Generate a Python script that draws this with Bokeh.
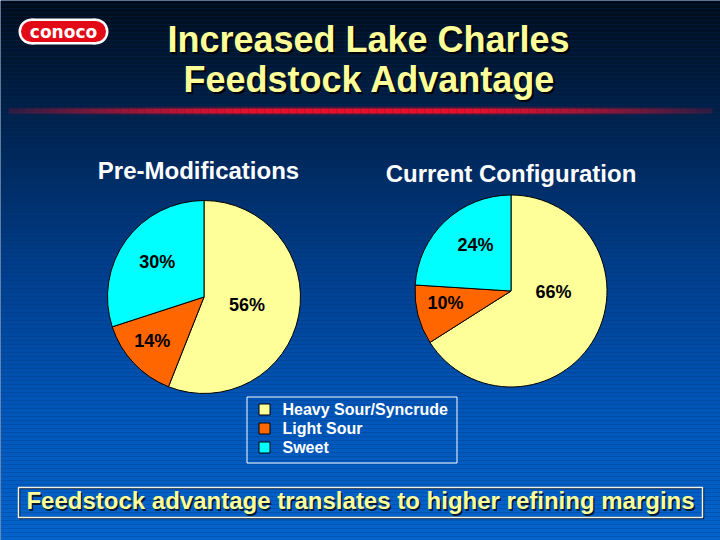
import numpy as np
from bokeh.plotting import figure
from bokeh.models import Range1d
from bokeh.embed import file_html
from bokeh.resources import INLINE
from bokeh.core.properties import value

# ---------------- data ----------------
title_lines = ["Increased Lake Charles", "Feedstock Advantage"]
categories = ["Heavy Sour/Syncrude", "Light Sour", "Sweet"]
pre_mod = [56, 14, 30]
current = [66, 10, 24]
pie_titles = ["Pre-Modifications", "Current Configuration"]
footer_text = "Feedstock advantage translates to higher refining margins"
logo_text = "conoco"

# ---------------- style / layout ----------------
W, H = 720, 540
FONT = value("Liberation Sans")
SLICE_COLORS = ["#ffff99", "#ff6600", "#00ffff"]
YELLOW = "#ffff99"
BASE_FIX = 10  # correction for rendered alphabetic baseline

def Y(y):
    return H - y

p = figure(width=W, height=H, x_range=Range1d(0, W), y_range=Range1d(0, H),
           output_backend="svg", toolbar_location=None, min_border=0,
           x_axis_location=None, y_axis_location=None)
p.grid.visible = False
p.outline_line_color = None
p.background_fill_color = "#00306a"
p.border_fill_color = "#00306a"

# background gradient
stops_y = [0, 110, 270, 400, 540]
stops_c = [(0, 12, 26), (0, 32, 72), (0, 62, 140), (0, 84, 182), (4, 100, 204)]
step = 4
tops, bots, cols = [], [], []
for y in range(0, H, step):
    ym = y + step / 2
    c = [int(round(np.interp(ym, stops_y, [s[i] for s in stops_c]))) for i in range(3)]
    tops.append(Y(y))
    bots.append(Y(y + step))
    cols.append("#%02x%02x%02x" % tuple(c))
p.quad(left=0, right=W, top=tops, bottom=bots, fill_color=cols, line_color=None)

# red rule under title
x0, x1, seg = 8, 712, 8
ls, rs, al = [], [], []
for x in range(x0, x1, seg):
    t = ((x + seg / 2) - (x0 + x1) / 2) / ((x1 - x0) / 2)
    a = 1.0 if abs(t) < 0.3 else 1.0 - 0.85 * ((abs(t) - 0.3) / 0.7) ** 1.1
    ls.append(x)
    rs.append(x + seg)
    al.append(max(a, 0.1))
p.quad(left=ls, right=rs, top=Y(106), bottom=Y(115), fill_color="#e8112d",
       fill_alpha=[a * 0.25 for a in al], line_color=None)
p.quad(left=ls, right=rs, top=Y(108), bottom=Y(113), fill_color="#e8112d",
       fill_alpha=al, line_color=None)

# logo
p.rect(x=[63], y=[Y(31)], width=64, height=26, fill_color="white", line_color=None)
p.circle(x=[31, 95], y=[Y(31)] * 2, radius=13, fill_color="white", line_color=None)
p.rect(x=[63], y=[Y(31)], width=64, height=21, fill_color="#e30a17", line_color=None)
p.circle(x=[31, 95], y=[Y(31)] * 2, radius=10.5, fill_color="#e30a17", line_color=None)
p.text(x=[63], y=[Y(31)], text=[logo_text], text_font=value("DejaVu Sans"),
       text_font_style="bold", text_font_size="17px", text_color="white",
       text_align="center", text_baseline="middle")

# title with shadow
tx = [368, 369]
ty = [49 - BASE_FIX, 89 - BASE_FIX]
p.text(x=[x + 2 for x in tx], y=[Y(y + 2) for y in ty], text=title_lines, text_font=FONT,
       text_font_style="bold", text_font_size="36px", text_color="#000000", text_alpha=0.85,
       text_align="center", text_baseline="alphabetic")
p.text(x=tx, y=[Y(y) for y in ty], text=title_lines, text_font=FONT,
       text_font_style="bold", text_font_size="36px", text_color=YELLOW,
       text_align="center", text_baseline="alphabetic")

# pies
pies = [
    dict(values=pre_mod, cx=203.5, cy=296.5, r=96.5, tx=198, ty=180,
         lab=[(0.446, 0.088), (-0.537, 0.451), (-0.485, -0.361)]),
    dict(values=current, cx=510.5, cy=290.5, r=96, tx=510.5, ty=183,
         lab=[(0.443, 0.012), (-0.682, 0.130), (-0.370, -0.474)]),
]
for pie, ttl in zip(pies, pie_titles):
    vals = np.array(pie["values"], dtype=float)
    frac = vals / vals.sum()
    cum = np.concatenate([[0], np.cumsum(frac)])
    start = np.pi / 2 - 2 * np.pi * cum[1:]
    end = np.pi / 2 - 2 * np.pi * cum[:-1]
    p.wedge(x=pie["cx"], y=Y(pie["cy"]), radius=pie["r"], start_angle=list(start),
            end_angle=list(end), fill_color=SLICE_COLORS, line_color="black", line_width=1)
    lx = [pie["cx"] + pie["r"] * fx for fx, fy in pie["lab"]]
    ly = [Y(pie["cy"] + pie["r"] * fy) for fx, fy in pie["lab"]]
    p.text(x=lx, y=ly, text=["%d%%" % v for v in pie["values"]], text_font=FONT,
           text_font_style="bold", text_font_size="18px", text_color="black",
           text_align="center", text_baseline="middle")
    p.text(x=[pie["tx"]], y=[Y(pie["ty"] - BASE_FIX)], text=[ttl], text_font=FONT,
           text_font_style="bold", text_font_size="24px", text_color="white",
           text_align="center", text_baseline="alphabetic")

# legend
lx0, lx1, ly0, ly1 = 246.5, 456.5, 396.5, 462.5
p.quad(left=lx0, right=lx1, top=Y(ly0), bottom=Y(ly1), fill_color=None,
       line_color="white", line_width=1)
rows = [409, 428, 447]
p.rect(x=[264] * 3, y=[Y(r) for r in rows], width=11, height=11,
       fill_color=SLICE_COLORS, line_color="black", line_width=1)
p.text(x=[282] * 3, y=[Y(r) for r in rows], text=categories, text_font=FONT,
       text_font_style="bold", text_font_size="16px", text_color="white",
       text_align="left", text_baseline="middle")

# footer banner
p.quad(left=19, right=703, top=Y(488), bottom=Y(518), fill_color=None,
       line_color="#001a40", line_width=1.5)
p.quad(left=18, right=702, top=Y(487), bottom=Y(517), fill_color=None,
       line_color="#f0f0e0", line_width=1.5)
fy = 510 - BASE_FIX
p.text(x=[361.5], y=[Y(fy + 1.5)], text=[footer_text], text_font=FONT,
       text_font_style="bold", text_font_size="24px", text_color="#001020", text_alpha=0.9,
       text_align="center", text_baseline="alphabetic")
p.text(x=[360], y=[Y(fy)], text=[footer_text], text_font=FONT,
       text_font_style="bold", text_font_size="24px", text_color=YELLOW,
       text_align="center", text_baseline="alphabetic")

open("out.html", "w").write(file_html(p, INLINE))
